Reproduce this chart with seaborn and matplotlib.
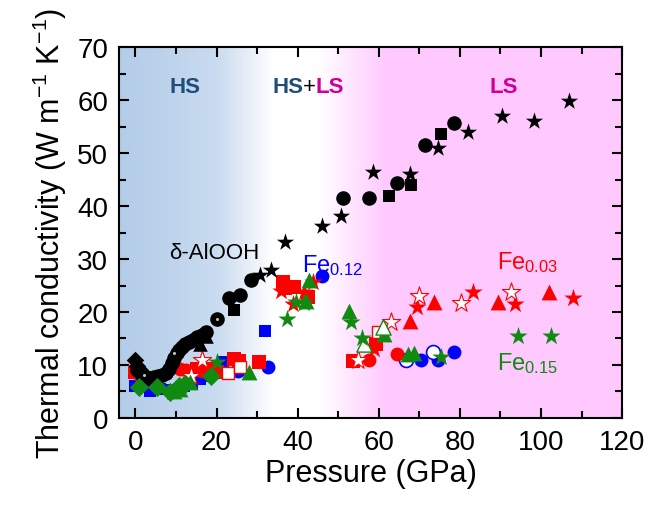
import numpy as np
import pandas as pd
import matplotlib
matplotlib.use("Agg")
import matplotlib.pyplot as plt
import seaborn as sns
from matplotlib.colors import LinearSegmentedColormap

# ---------------- data (Pressure GPa, conductivity W/m/K) ----------------
# delta-AlOOH (black)
bk_circ_x = [0.5, 1.5, 2.5, 3.5, 4.5, 5.5, 6.5, 7.5, 8.3, 9.0, 9.6, 10.2, 10.8, 11.5, 12.3, 13.2, 14.2, 15.2, 16.3, 17.5, 20.0, 23.0, 25.9, 28.4, 51.3, 57.5, 64.6, 71.3, 78.5]
bk_circ_y = [9.0, 8.2, 7.8, 7.6, 7.8, 8.0, 8.2, 8.5, 9.3, 10.3, 11.3, 12.2, 12.8, 13.3, 13.9, 14.4, 14.8, 15.2, 15.6, 16.3, 18.7, 22.6, 23.2, 26.0, 41.5, 41.5, 44.3, 51.5, 55.7]
bk_dot_x = [2.0, 9.4, 20.0]
bk_dot_y = [8.1, 12.3, 18.7]
bk_star_x = [30.6, 33.5, 37.0, 45.9, 50.6, 58.5, 67.7, 74.6, 82.0, 90.4, 98.3, 106.9]
bk_star_y = [27.0, 28.0, 33.2, 36.2, 38.1, 46.4, 46.0, 50.9, 54.0, 57.0, 56.0, 59.8]
bk_sq_x = [24.4, 62.5, 67.9, 75.3]
bk_sq_y = [20.4, 41.9, 44.0, 53.6]
bk_diam_x = [0.0, 0.3, 1.0]
bk_diam_y = [11.0, 9.8, 9.0]
bk_tri_x = [16.0, 17.5]
bk_tri_y = [14.0, 15.5]

# Fe0.03 (red)
rd_star_x = [35.8, 38.8, 41.5, 43.9, 58.8, 69.4, 83.2, 93.6, 107.9]
rd_star_y = [24.0, 21.5, 23.8, 25.7, 13.0, 21.0, 23.8, 21.5, 22.6]
rd_ostar_x = [13.6, 16.5, 54.8, 63.0, 69.9, 80.2, 92.6]
rd_ostar_y = [7.9, 10.9, 10.9, 18.1, 23.0, 21.7, 23.8]
rd_tri_x = [67.7, 73.6, 89.4, 102.0]
rd_tri_y = [18.3, 21.9, 21.9, 23.8]
rd_sq_x = [0.0, 15.3, 18.0, 20.2, 24.2, 25.5, 30.4, 36.5, 37.0, 39.0, 42.5, 53.6, 59.3]
rd_sq_y = [8.7, 9.2, 9.2, 8.7, 11.1, 10.8, 10.6, 25.7, 24.5, 24.7, 22.8, 10.8, 14.0]
rd_circ_x = [1.0, 11.1, 12.5, 14.5, 16.5, 24.7, 57.5, 64.4]
rd_circ_y = [8.0, 9.2, 9.0, 9.0, 8.8, 11.0, 10.9, 12.1]
rd_osq_x = [22.7, 25.9, 59.7]
rd_osq_y = [8.5, 9.6, 16.2]

# Fe0.12 (blue)
bl_circ_x = [25.4, 32.8, 46.0, 70.4, 74.6, 78.5]
bl_circ_y = [8.9, 9.6, 26.8, 10.9, 10.9, 12.5]
bl_ocirc_x = [66.7, 73.3]
bl_ocirc_y = [10.9, 12.5]
bl_sq_x = [0.0, 3.7, 6.0, 9.0, 12.0, 14.0, 16.0, 18.0, 21.5, 32.0]
bl_sq_y = [6.0, 5.1, 5.5, 5.2, 6.0, 6.4, 7.4, 8.0, 10.6, 16.4]

# Fe0.15 (green)
gr_diam_x = [0.8, 5.2, 8.4, 10.7, 12.2, 18.6]
gr_diam_y = [5.8, 5.8, 4.9, 6.0, 6.5, 7.9]
gr_tri_x = [9.5, 11.0, 13.5, 27.9, 42.0, 42.7, 52.6, 61.4, 67.2, 68.6]
gr_tri_y = [5.0, 5.5, 6.8, 8.7, 22.1, 26.0, 20.2, 15.8, 12.1, 12.3]
gr_otri_x = [56.3, 61.0]
gr_otri_y = [14.0, 17.2]
gr_star_x = [20.2, 37.3, 39.5, 41.5, 53.1, 55.8, 75.3, 94.3, 102.5]
gr_star_y = [10.6, 18.7, 21.9, 21.7, 18.1, 15.1, 11.5, 15.5, 15.5]

x_ticks = [0, 20, 40, 60, 80, 100, 120]
y_ticks = [0, 10, 20, 30, 40, 50, 60, 70]

# ---------------- style ----------------
sns.set_theme(style="ticks")
plt.rcParams["font.family"] = ["Liberation Sans", "DejaVu Sans"]
plt.rcParams["mathtext.fontset"] = "custom"
plt.rcParams["mathtext.rm"] = "Liberation Sans"
plt.rcParams["mathtext.it"] = "Liberation Sans:italic"
plt.rcParams["mathtext.bf"] = "Liberation Sans:bold"
for k in ["text.color", "axes.labelcolor", "xtick.color", "ytick.color", "axes.edgecolor"]:
    plt.rcParams[k] = "black"

fig = plt.figure(figsize=(6.48, 5.06), dpi=100)
ax = fig.add_axes([0.184, 0.172, 0.776, 0.733])

# background gradient HS -> HS+LS -> LS
xmin, xmax = -4, 120
stops = [
    (0.0, (0.70, 0.80, 0.91)),
    ((20 - xmin) / 124, (0.79, 0.86, 0.94)),
    ((34 - xmin) / 124, (1.0, 1.0, 1.0)),
    ((45 - xmin) / 124, (1.0, 1.0, 1.0)),
    ((62 - xmin) / 124, (1.0, 0.79, 1.0)),
    (1.0, (1.0, 0.79, 1.0)),
]
cmap = LinearSegmentedColormap.from_list("bg", stops)
grad = np.linspace(0, 1, 600).reshape(1, -1)
ax.imshow(grad, extent=[xmin, xmax, 0, 70], aspect="auto", cmap=cmap, zorder=0, interpolation="bicubic")


def pts(xs, ys, marker, color, s, edge=None, lw=0.0, z=3):
    df = pd.DataFrame({"P": xs, "k": ys})
    sns.scatterplot(data=df, x="P", y="k", marker=marker, color=color, s=s,
                    edgecolor=edge if edge is not None else color, linewidth=lw,
                    ax=ax, zorder=z, legend=False)


BLUE, RED, GREEN, BLACK = "#0000ff", "#ff0000", "#108a10", "#000000"

# blue
pts(bl_sq_x, bl_sq_y, "s", BLUE, 80, z=3)
pts(bl_circ_x, bl_circ_y, "o", BLUE, 100, z=3)
pts(bl_ocirc_x, bl_ocirc_y, "o", "white", 100, edge=BLUE, lw=1.2, z=3)
# red
pts(rd_sq_x, rd_sq_y, "s", RED, 90, z=4)
pts(rd_circ_x, rd_circ_y, "o", RED, 100, z=4)
pts(rd_osq_x, rd_osq_y, "s", "white", 80, edge=RED, lw=1.0, z=4)
pts(rd_tri_x, rd_tri_y, "^", RED, 130, z=4)
pts(rd_star_x, rd_star_y, "*", RED, 190, z=4)
pts(rd_ostar_x, rd_ostar_y, "*", "white", 190, edge=RED, lw=0.8, z=4)
# black
pts(bk_circ_x, bk_circ_y, "o", BLACK, 110, z=5)
pts(bk_diam_x, bk_diam_y, "D", BLACK, 80, z=5)
pts(bk_tri_x, bk_tri_y, "^", BLACK, 110, z=5)
pts(bk_sq_x, bk_sq_y, "s", BLACK, 85, z=5)
pts(bk_star_x, bk_star_y, "*", BLACK, 170, z=5)
pts(bk_dot_x, bk_dot_y, "o", "#bdbdbd", 5, z=6)
# green
pts(gr_diam_x, gr_diam_y, "D", GREEN, 95, z=6)
pts(gr_tri_x, gr_tri_y, "^", GREEN, 130, z=6)
pts(gr_otri_x, gr_otri_y, "^", "white", 120, edge=GREEN, lw=1.0, z=6)
pts(gr_star_x, gr_star_y, "*", GREEN, 190, z=6)

# axes
ax.set_xlim(xmin, xmax)
ax.set_ylim(0, 70)
ax.set_xticks(x_ticks)
ax.set_yticks(y_ticks)
ax.set_xticks(np.arange(10, 120, 20), minor=True)
ax.set_yticks(np.arange(5, 70, 10), minor=True)
ax.tick_params(which="both", direction="in", top=True, right=True, width=1.5, colors="black")
ax.tick_params(which="major", length=7, labelsize=20, pad=8)
ax.tick_params(which="minor", length=5)
for sp in ax.spines.values():
    sp.set_linewidth(1.5)
    sp.set_visible(True)
    sp.set_color("black")
ax.set_xlabel("Pressure (GPa)", fontsize=22, labelpad=2)
ax.set_ylabel("Thermal conductivity (W m$^{-1}$ K$^{-1}$)", fontsize=22, labelpad=6)

# annotations
NAVY, MAG = "#1f4e79", "#cc0099"
ax.text(12.3, 62.6, "HS", color=NAVY, fontsize=16, fontweight="bold", ha="center", va="center", zorder=7)
ax.text(41.5, 62.6, "HS", color=NAVY, fontsize=16, fontweight="bold", ha="right", va="center", zorder=7)
ax.text(42.9, 62.6, "+", color="black", fontsize=16, ha="center", va="center", zorder=7)
ax.text(44.3, 62.6, "LS", color=MAG, fontsize=16, fontweight="bold", ha="left", va="center", zorder=7)
ax.text(90.9, 62.6, "LS", color=MAG, fontsize=16, fontweight="bold", ha="center", va="center", zorder=7)
ax.text(19.5, 31.3, "δ-AlOOH", color="black", fontsize=16, ha="center", va="center", zorder=7)
ax.text(48.5, 29.0, "Fe$_{0.12}$", color=BLUE, fontsize=17, ha="center", va="center", zorder=7)
ax.text(96.8, 29.6, "Fe$_{0.03}$", color=RED, fontsize=17, ha="center", va="center", zorder=7)
ax.text(96.8, 10.5, "Fe$_{0.15}$", color=GREEN, fontsize=17, ha="center", va="center", zorder=7)

fig.savefig("out.png", dpi=100)
